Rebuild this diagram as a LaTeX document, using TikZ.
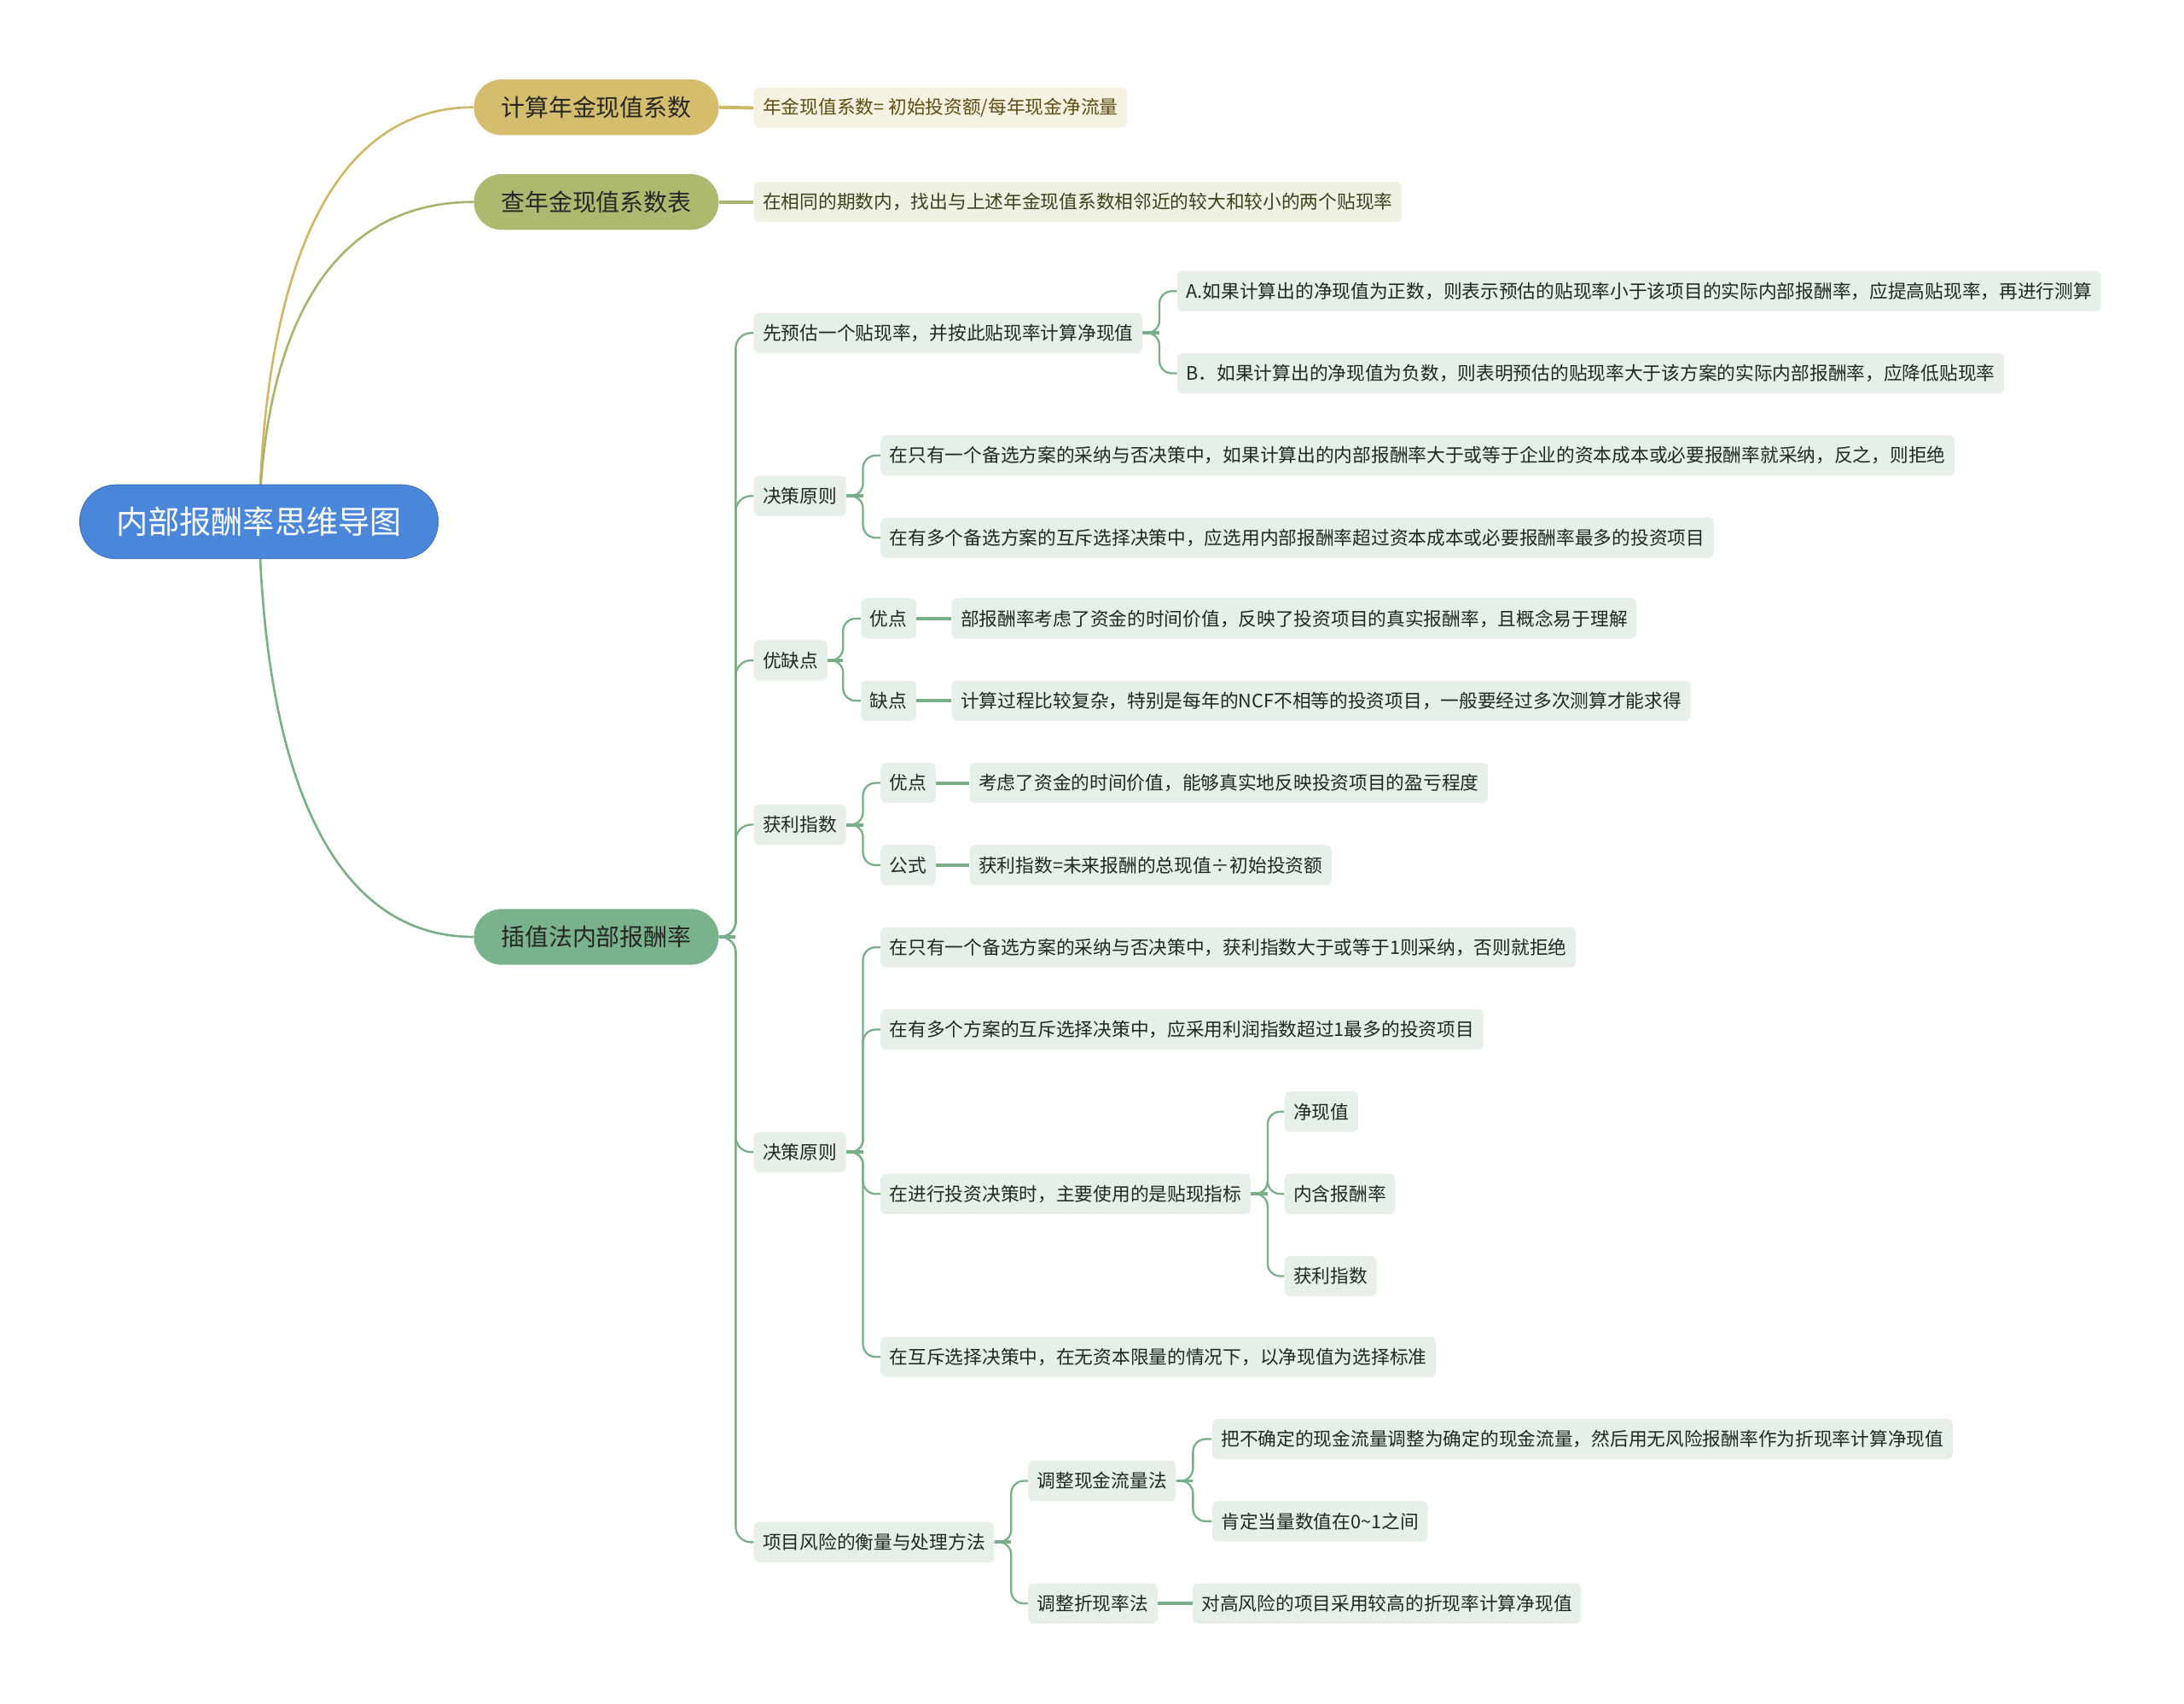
\documentclass[tikz,border=0pt]{standalone}
\usepackage{fontspec}
\setmainfont{Noto Sans CJK SC}
\usetikzlibrary{backgrounds}
\definecolor{rootblue}{HTML}{4A86D9}
\definecolor{gold}{HTML}{D4BD6C}
\definecolor{goldline}{HTML}{CDB868}
\definecolor{olivec}{HTML}{AEB96F}
\definecolor{oliveline}{HTML}{A9B36C}
\definecolor{mgreen}{HTML}{79B28B}
\definecolor{greenline}{HTML}{78AE88}
\definecolor{goldleaf}{HTML}{F5F2E2}
\definecolor{oliveleaf}{HTML}{EFF1E3}
\definecolor{greenleaf}{HTML}{E6EFE8}
\definecolor{goldtext}{HTML}{5E4E14}
\definecolor{olivetext}{HTML}{3C421C}
\definecolor{darktext}{HTML}{1E2A22}
\tikzset{
  rootnode/.style={rounded corners=26pt, fill=rootblue, draw=rootblue!85!black, line width=0.6pt, text=white,
    minimum height=53pt, inner xsep=26pt, inner ysep=0pt, anchor=west, font=\fontsize{22.8}{26}\selectfont},
  lone/.style={rounded corners=20pt, minimum height=40pt, inner xsep=19.5pt, inner ysep=0pt, anchor=west,
    text=black!85, font=\fontsize{17.1}{20}\selectfont},
  leaf/.style={rounded corners=4pt, minimum height=29pt, inner xsep=6.5pt, inner ysep=0pt, anchor=west,
    fill=greenleaf, text=darktext, font=\fontsize{13.3}{16}\selectfont},
  br/.style={draw=greenline, line width=1.4pt, rounded corners=9pt},
  stub/.style={draw=greenline, line width=2.4pt},
  rootline/.style={line width=1.6pt}
}
\begin{document}
\begin{tikzpicture}[x=1pt,y=-1pt]
\useasboundingbox (0,0) rectangle (1568,1223);
% root and level 1
\node[rootnode] (root) at (57,374.5) {内部报酬率思维导图};
\node[lone, fill=gold] (n1) at (340,77) {计算年金现值系数};
\node[leaf, fill=goldleaf, text=goldtext] (n1a) at (541,77.5) {年金现值系数= 初始投资额/每年现金净流量};
\node[lone, fill=olivec] (n2) at (340,145) {查年金现值系数表};
\node[leaf, fill=oliveleaf, text=olivetext] (n2a) at (541,145) {在相同的期数内，找出与上述年金现值系数相邻近的较大和较小的两个贴现率};
\node[lone, fill=mgreen] (n3) at (340,672.5) {插值法内部报酬率};
% level 2
\node[leaf] (c1) at (541,239) {先预估一个贴现率，并按此贴现率计算净现值};
\node[leaf] (c1a) at (845,209) {A.如果计算出的净现值为正数，则表示预估的贴现率小于该项目的实际内部报酬率，应提高贴现率，再进行测算};
\node[leaf] (c1b) at (845,268) {B．如果计算出的净现值为负数，则表明预估的贴现率大于该方案的实际内部报酬率，应降低贴现率};
\node[leaf] (c2) at (541,356) {决策原则};
\node[leaf] (c2a) at (632,327) {在只有一个备选方案的采纳与否决策中，如果计算出的内部报酬率大于或等于企业的资本成本或必要报酬率就采纳，反之，则拒绝};
\node[leaf] (c2b) at (632,386) {在有多个备选方案的互斥选择决策中，应选用内部报酬率超过资本成本或必要报酬率最多的投资项目};
\node[leaf] (c3) at (541,474) {优缺点};
\node[leaf] (c3a) at (618,444) {优点};
\node[leaf] (c3a1) at (683,444) {部报酬率考虑了资金的时间价值，反映了投资项目的真实报酬率，且概念易于理解};
\node[leaf] (c3b) at (618,503) {缺点};
\node[leaf] (c3b1) at (683,503) {计算过程比较复杂，特别是每年的NCF不相等的投资项目，一般要经过多次测算才能求得};
\node[leaf] (c4) at (541,592) {获利指数};
\node[leaf] (c4a) at (632,562) {优点};
\node[leaf] (c4a1) at (696,562) {考虑了资金的时间价值，能够真实地反映投资项目的盈亏程度};
\node[leaf] (c4b) at (632,621) {公式};
\node[leaf] (c4b1) at (696,621) {获利指数=未来报酬的总现值÷初始投资额};
\node[leaf] (c5) at (541,827) {决策原则};
\node[leaf] (c5a) at (632,680) {在只有一个备选方案的采纳与否决策中，获利指数大于或等于1则采纳，否则就拒绝};
\node[leaf] (c5b) at (632,739) {在有多个方案的互斥选择决策中，应采用利润指数超过1最多的投资项目};
\node[leaf] (c5c) at (632,857) {在进行投资决策时，主要使用的是贴现指标};
\node[leaf] (c5c1) at (922,798) {净现值};
\node[leaf] (c5c2) at (922,857) {内含报酬率};
\node[leaf] (c5c3) at (922,916) {获利指数};
\node[leaf] (c5d) at (632,974) {在互斥选择决策中，在无资本限量的情况下，以净现值为选择标准};
\node[leaf] (c6) at (541,1107) {项目风险的衡量与处理方法};
\node[leaf] (c6a) at (738,1063) {调整现金流量法};
\node[leaf] (c6a1) at (870,1033) {把不确定的现金流量调整为确定的现金流量，然后用无风险报酬率作为折现率计算净现值};
\node[leaf] (c6a2) at (870,1092) {肯定当量数值在0{\char"7E}1之间};
\node[leaf] (c6b) at (738,1151) {调整折现率法};
\node[leaf] (c6b1) at (856,1151) {对高风险的项目采用较高的折现率计算净现值};
% connectors
\begin{scope}[on background layer]
\draw[rootline, draw=goldline] (root.center) .. controls (190,188) and (240,77) .. (n1.west);
\draw[rootline, draw=oliveline] (root.center) .. controls (190,231) and (240,145) .. (n2.west);
\draw[rootline, draw=greenline] (root.center) .. controls (190,560) and (240,672.5) .. (n3.west);
\draw[line width=2.4pt, draw=goldline] (n1.east) -- (n1a.west);
\draw[line width=2.4pt, draw=oliveline] (n2.east) -- (n2a.west);
\draw[stub] (n3.east) -- ++(12,0);
\foreach \c in {c1,c2,c3,c4,c5,c6} \draw[br, rounded corners=11pt] (n3.east) -- ++(12,0) |- (\c.west);
\draw[stub] (c1.east) -- ++(12,0);
\foreach \c in {c1a,c1b} \draw[br] (c1.east) -- ++(12,0) |- (\c.west);
\draw[stub] (c2.east) -- ++(12,0);
\foreach \c in {c2a,c2b} \draw[br] (c2.east) -- ++(12,0) |- (\c.west);
\draw[stub] (c3.east) -- ++(11,0);
\foreach \c in {c3a,c3b} \draw[br] (c3.east) -- ++(11,0) |- (\c.west);
\draw[stub] (c3a.east) -- (c3a1.west);
\draw[stub] (c3b.east) -- (c3b1.west);
\draw[stub] (c4.east) -- ++(12,0);
\foreach \c in {c4a,c4b} \draw[br] (c4.east) -- ++(12,0) |- (\c.west);
\draw[stub] (c4a.east) -- (c4a1.west);
\draw[stub] (c4b.east) -- (c4b1.west);
\draw[stub] (c5.east) -- ++(12,0);
\foreach \c in {c5a,c5b,c5c,c5d} \draw[br] (c5.east) -- ++(12,0) |- (\c.west);
\draw[stub] (c5c.east) -- ++(12,0);
\foreach \c in {c5c1,c5c2,c5c3} \draw[br] (c5c.east) -- ++(12,0) |- (\c.west);
\draw[stub] (c6.east) -- ++(12,0);
\foreach \c in {c6a,c6b} \draw[br] (c6.east) -- ++(12,0) |- (\c.west);
\draw[stub] (c6a.east) -- ++(12,0);
\foreach \c in {c6a1,c6a2} \draw[br] (c6a.east) -- ++(12,0) |- (\c.west);
\draw[stub] (c6b.east) -- (c6b1.west);
\end{scope}
\end{tikzpicture}
\end{document}
